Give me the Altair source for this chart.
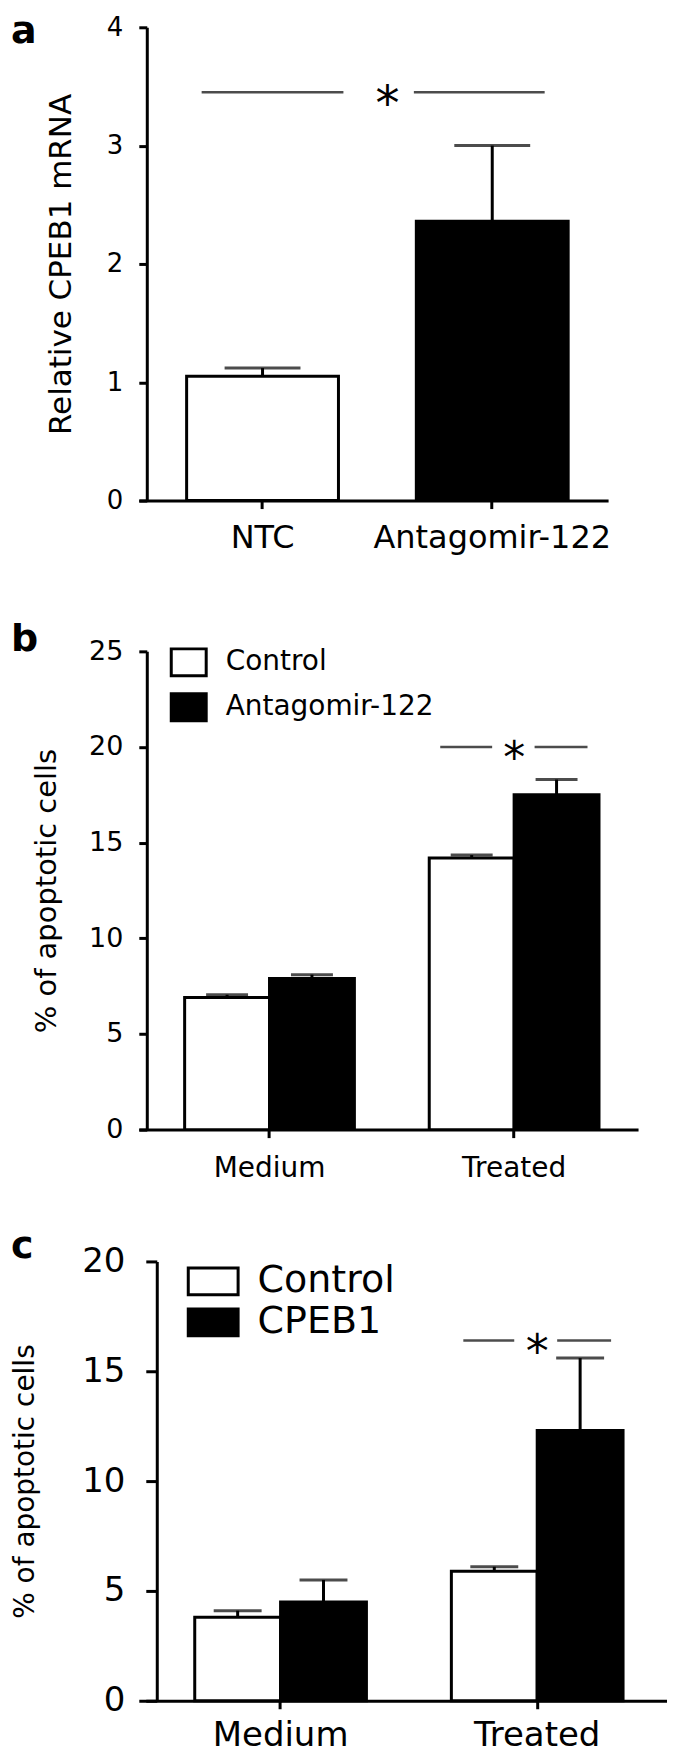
import altair as alt
import pandas as pd

FONT = "DejaVu Sans"

# ---------------- data ----------------
# panel a
a_groups = ["NTC", "Antagomir-122"]
a_means = [1.05, 2.36]
a_errs = [0.07, 0.64]
a_sig = 3.45
a_ticks = [0, 1, 2, 3, 4]

# panel b
b_groups = ["Medium", "Treated"]
b_series = ["Control", "Antagomir-122"]
b_means = [[6.9, 7.9], [14.2, 17.5]]
b_errs = [[0.15, 0.2], [0.15, 0.8]]
b_sig = 20.0
b_ticks = [0, 5, 10, 15, 20, 25]

# panel c
c_groups = ["Medium", "Treated"]
c_series = ["Control", "CPEB1"]
c_means = [[3.8, 4.5], [5.9, 12.3]]
c_errs = [[0.3, 1.0], [0.2, 3.3]]
c_sig = 16.4
c_ticks = [0, 5, 10, 15, 20]

SIG_W = 2.5


def letter_mark(letter, size, dy):
    return alt.Chart(pd.DataFrame({"lab": [letter]})).mark_text(
        fontSize=size, fontWeight="bold", font=FONT, color="black",
        align="left", baseline="alphabetic").encode(
        text="lab:N", x=alt.value(-128), y=alt.value(dy))


# ---------------- panel a ----------------
dfa = pd.DataFrame({"cond": a_groups, "mean": a_means, "err": a_errs})
dfa["top"] = dfa["mean"] + dfa["err"]
dfa_sig_l = pd.DataFrame({"cond": [a_groups[0]], "sig": [a_sig]})
dfa_sig_r = pd.DataFrame({"cond": [a_groups[1]], "sig": [a_sig]})

xs_a = alt.Scale(domain=a_groups, paddingInner=0.339, paddingOuter=0.191, align=0.545)
xax_a = alt.Axis(title=None, labelAngle=0, labelFontSize=32, labelFont=FONT, labelPadding=14,
                 tickSize=8, tickWidth=3, domainWidth=3, labelColor="black", labelLimit=500,
                 grid=False, domainColor="black", tickColor="black")
ys_a = alt.Scale(domain=[0, 4], nice=False)
yax_a = alt.Axis(title="Relative CPEB1 mRNA", values=a_ticks, offset=-8, tickSize=8, tickWidth=3,
                 domainWidth=3, labelFontSize=26, labelFont=FONT, labelPadding=16,
                 titleFontSize=31, titleFont=FONT, titleFontWeight="normal", titleX=-85,
                 titleBaseline="middle", titleColor="black", labelColor="black",
                 grid=False, domainColor="black", tickColor="black")


def xa(bp=None):
    if bp is None:
        return alt.X("cond:N", sort=a_groups, scale=xs_a, axis=xax_a)
    return alt.X("cond:N", sort=a_groups, scale=xs_a, axis=xax_a, bandPosition=bp)


def ya(f):
    return alt.Y(f, scale=ys_a, axis=yax_a)


a_err = alt.Chart(dfa).mark_rule(color="black", strokeWidth=3).encode(
    x=xa(), y=ya("mean:Q"), y2="top:Q")
a_cap = alt.Chart(dfa).mark_tick(color="black", thickness=3, size=76).encode(
    x=xa(), y=ya("top:Q"))
a_bar = alt.Chart(dfa).mark_bar(stroke="black", strokeWidth=3).encode(
    x=xa(), y=ya("mean:Q"),
    fill=alt.Fill("cond:N", scale=alt.Scale(domain=a_groups, range=["white", "black"]), legend=None))
a_l1 = alt.Chart(dfa_sig_l).mark_tick(color="black", thickness=SIG_W, size=142, xOffset=10).encode(
    x=xa(), y=ya("sig:Q"))
a_l2 = alt.Chart(dfa_sig_r).mark_tick(color="black", thickness=SIG_W, size=131, xOffset=-13).encode(
    x=xa(), y=ya("sig:Q"))
a_star = alt.Chart(dfa_sig_r).mark_text(text="*", fontSize=48, font=FONT, baseline="alphabetic",
                                        dy=28, xOffset=-29, color="black").encode(
    x=xa(0), y=ya("sig:Q"))

panel_a = alt.layer(a_err, a_bar, a_cap, a_l1, a_l2, a_star, letter_mark("a", 38, 16)).properties(
    width=470, height=474)


# ---------------- grouped panels ----------------
def grouped(groups, series, means, errs, sig, ticks, ymax, width, height, p_in, p_out, p_align,
            letter, letter_dy, ytitle, yopts, xfs, xpad, legfs, sym_path, sym_size, legx, legy,
            legrow, leg_off, cap, sig_specs, star_fs):
    rows = []
    for gi, g in enumerate(groups):
        for si, s in enumerate(series):
            rows.append({"group": g, "series": s, "mean": means[gi][si],
                         "top": means[gi][si] + errs[gi][si]})
    df = pd.DataFrame(rows)
    df_sig = pd.DataFrame({"group": [groups[1]], "sig": [sig]})

    xs = alt.Scale(domain=groups, paddingInner=p_in, paddingOuter=p_out, align=p_align)
    xax = alt.Axis(title=None, labelAngle=0, labelFontSize=xfs, labelFont=FONT, labelPadding=xpad,
                   tickSize=8, tickWidth=3, domainWidth=3, labelColor="black", labelLimit=500,
                   grid=False, domainColor="black", tickColor="black")
    ys = alt.Scale(domain=[0, ymax], nice=False)
    yax = alt.Axis(title=ytitle, values=ticks, tickWidth=3, domainWidth=3, labelFont=FONT,
                   titleFont=FONT, titleFontWeight="normal", titleBaseline="middle",
                   titleColor="black", labelColor="black", grid=False, domainColor="black",
                   tickColor="black", **yopts)
    xo = alt.XOffset("series:N", sort=series,
                     scale=alt.Scale(domain=series, paddingInner=0, paddingOuter=0))

    def X():
        return alt.X("group:N", sort=groups, scale=xs, axis=xax)

    def Y(f):
        return alt.Y(f, scale=ys, axis=yax)

    err = alt.Chart(df).mark_rule(color="black", strokeWidth=3).encode(
        x=X(), xOffset=xo, y=Y("mean:Q"), y2="top:Q")
    capm = alt.Chart(df).mark_tick(color="black", thickness=3, size=cap).encode(
        x=X(), xOffset=xo, y=Y("top:Q"))
    bar = alt.Chart(df).mark_bar(stroke="black", strokeWidth=3).encode(
        x=X(), xOffset=xo, y=Y("mean:Q"),
        fill=alt.Fill("series:N", sort=series,
                      scale=alt.Scale(domain=series, range=["white", "black"]),
                      legend=alt.Legend(title=None, orient="none", legendX=legx, legendY=legy,
                                        labelFontSize=legfs, labelFont=FONT, labelColor="black",
                                        symbolType=sym_path, symbolSize=sym_size,
                                        symbolStrokeColor="black", symbolStrokeWidth=3,
                                        labelOffset=leg_off, rowPadding=legrow, padding=0,
                                        labelLimit=400)))
    layers = [err, bar, capm]
    for shift, length in sig_specs:
        layers.append(alt.Chart(df_sig).mark_tick(color="black", thickness=SIG_W, size=length,
                                                  xOffset=shift).encode(
            x=X(), y=Y("sig:Q")))
    star = alt.Chart(df_sig).mark_text(text="*", fontSize=star_fs, font=FONT,
                                       baseline="alphabetic", dy=round(star_fs * 0.59),
                                       color="black").encode(
        x=X(), y=Y("sig:Q"))
    layers += [star, letter_mark(letter, 38, letter_dy)]
    return alt.layer(*layers).properties(width=width, height=height)


panel_b = grouped(b_groups, b_series, b_means, b_errs, b_sig, b_ticks, 25, 500, 479,
                  0.306, 0.1735, 0.54,
                  "b", 0, "% of apoptotic cells",
                  dict(offset=-8, tickSize=8, labelFontSize=27, labelPadding=16,
                       titleFontSize=29, titleX=-100),
                  28, 17, 28, "M-1,-0.77H1V0.77H-1Z", 1225, 31, -8, 5, 18, 42,
                  [(-48, 52), (47, 53)], 44)

panel_c = grouped(c_groups, c_series, c_means, c_errs, c_sig, c_ticks, 20, 529, 440,
                  0.331, 0.1946, 0.56,
                  "c", -3, "% of apoptotic cells",
                  dict(offset=-18, tickSize=11, labelFontSize=34, labelPadding=21,
                       titleFontSize=28, titleX=-131),
                  34, 10, 38, "M-1.28,-0.69H1.28V0.69H-1.28Z", 1521, 53.5, -1, 0, 23.5, 48,
                  [(-48.5, 51), (47, 54)], 46)

indep = dict(x="independent", y="independent", xOffset="independent", fill="independent")

top_part = alt.vconcat(panel_a, panel_b, spacing=68).resolve_scale(**indep).resolve_legend(
    fill="independent")

chart = alt.vconcat(top_part, panel_c, spacing=46).resolve_scale(**indep).resolve_legend(
    fill="independent").properties(
    padding={"left": 3, "top": 4, "right": 0, "bottom": 0}
).configure_view(stroke=None).configure_axis(
    domainColor="black", tickColor="black", grid=False
)

chart.save("out.html", embed_options={"renderer": "svg", "actions": False})
